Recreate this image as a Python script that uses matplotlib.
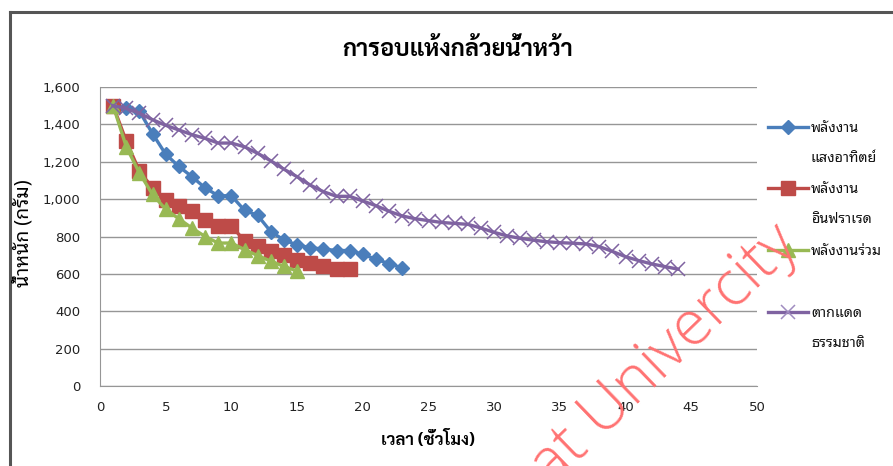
import matplotlib
matplotlib.use("Agg")
import matplotlib.pyplot as plt
from matplotlib.lines import Line2D

hours_sun = list(range(1, 24))
weight_sun = [1500, 1490, 1470, 1350, 1240, 1175, 1120, 1060, 1018, 1018, 940, 913,
              826, 781, 755, 740, 733, 725, 725, 705, 678, 655, 632]

hours_ir = list(range(1, 20))
weight_ir = [1500, 1310, 1150, 1060, 995, 965, 935, 890, 855, 855, 778, 750, 720,
             700, 675, 660, 642, 625, 625]

hours_mix = list(range(1, 16))
weight_mix = [1500, 1280, 1140, 1025, 945, 895, 845, 800, 765, 765, 730, 698, 668,
              640, 615]

hours_nat = list(range(1, 45))
weight_nat = [1500, 1485, 1460, 1425, 1395, 1370, 1345, 1325, 1300, 1300, 1280, 1245,
              1205, 1160, 1120, 1075, 1040, 1015, 1015, 990, 965, 935, 910, 895, 885,
              875, 870, 865, 845, 822, 803, 790, 780, 772, 767, 764, 760, 746, 720,
              692, 671, 653, 639, 625]

series_labels = [["พลังงาน", "แสงอาทิตย์"], ["พลังงาน", "อินฟราเรด"],
                 ["พลังงานร่วม"], ["ตากแดด", "ธรรมชาติ"]]
title_text = "การอบแห้งกล้วยน้ำหว้า"
x_label = "เวลา (ชั่วโมง)"
y_label = "น้ำหนัก (กรัม)"
watermark = "at Univercity"

x_ticks = [0, 5, 10, 15, 20, 25, 30, 35, 40, 45, 50]
y_ticks = [0, 200, 400, 600, 800, 1000, 1200, 1400, 1600]

THAI_TITLE = ["Sarabun", "DejaVu Sans"]
THAI_TEXT = ["Noto Sans Thai Looped", "Loma", "DejaVu Sans"]

colors = ["#4A7EBB", "#BE4B48", "#98B954", "#7F63A1"]
styles = [dict(marker="D", ms=7.6), dict(marker="s", ms=9.5),
          dict(marker="^", ms=10), dict(marker="x", ms=10, mew=1.1)]

W, H = 893, 466
fig = plt.figure(figsize=(W / 100, H / 100), dpi=100)

# chart frame (top and left edges)
fig.add_artist(Line2D([10 / W, 10 / W], [0, 1 - 12 / H], transform=fig.transFigure,
                      color="#555555", lw=2.2))
fig.add_artist(Line2D([10 / W, 1], [1 - 12 / H, 1 - 12 / H], transform=fig.transFigure,
                      color="#555555", lw=2.2))

ax = fig.add_axes([100 / W, 1 - 386 / H, 657 / W, 299 / H])

data = [(hours_sun, weight_sun), (hours_ir, weight_ir),
        (hours_mix, weight_mix), (hours_nat, weight_nat)]
for i, ((xs, ys), c, st) in enumerate(zip(data, colors, styles)):
    ax.plot(xs, ys, color=c, lw=2.4, zorder=3 + i, **st)

ax.set_xlim(0, 50)
ax.set_ylim(0, 1600)
ax.set_xticks(x_ticks)
ax.set_yticks(y_ticks)
ax.set_yticklabels([f"{v:,}" for v in y_ticks])
ax.yaxis.grid(True, color="#969696", lw=1)
ax.set_axisbelow(True)
for s in ("top", "right"):
    ax.spines[s].set_visible(False)
for s in ("left", "bottom"):
    ax.spines[s].set_color("#969696")
ax.tick_params(length=0, labelsize=9.5, colors="#222222")
ax.tick_params(axis="y", pad=14)
ax.tick_params(axis="x", pad=11)

fig.text(458 / W, 1 - 50 / H, title_text, family=THAI_TITLE, fontweight="bold",
         fontsize=17, ha="center", va="center")
fig.text(428 / W, 1 - 440 / H, x_label, family=THAI_TITLE, fontweight="bold",
         fontsize=12, ha="center", va="center")
fig.text(23 / W, 1 - 233 / H, y_label, family=THAI_TEXT, fontweight="bold",
         fontsize=14, ha="center", va="center", rotation=90)

# legend at the right
legend_rows = [(127, 157), (188, 218), (250,), (312, 342)]
for c, st, labels, rows in zip(colors, styles, series_labels, legend_rows):
    y0 = 1 - rows[0] / H
    fig.add_artist(Line2D([768 / W, 808 / W], [y0, y0], transform=fig.transFigure,
                          color=c, lw=2.4))
    fig.add_artist(Line2D([788 / W], [y0], transform=fig.transFigure,
                          color=c if st["marker"] != "x" else "#A08CC0",
                          lw=0, **st))
    for lab, yy in zip(labels, rows):
        fig.text(811 / W, 1 - (yy + 5) / H, lab, family=THAI_TEXT, fontsize=10.3,
                 ha="left", va="baseline", color="#111111")

fig.text(552 / W, 1 - 487 / H, watermark, family=["Open Sans", "Liberation Sans"],
         fontweight="light", fontsize=45, color="#FF7272", rotation=44,
         rotation_mode="anchor", ha="left", va="baseline", zorder=20)

fig.savefig("out.png", dpi=100)
